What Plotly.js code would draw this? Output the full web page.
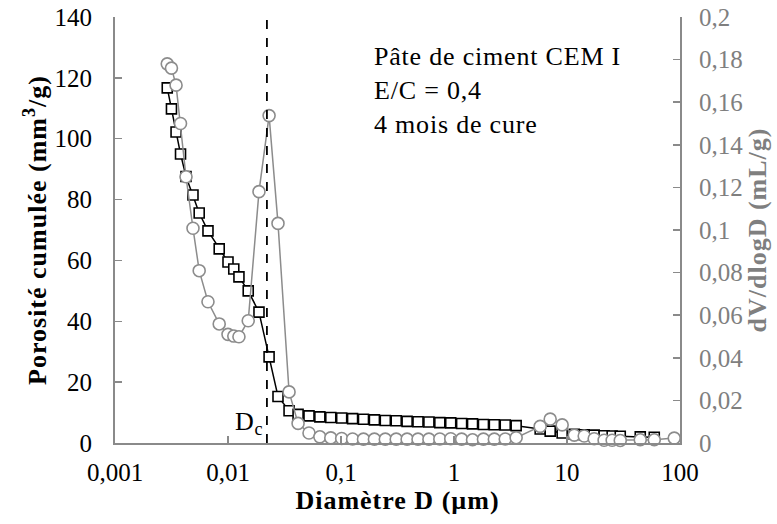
<!DOCTYPE html>
<html>
<head>
<meta charset="utf-8">
<script src="https://cdn.plot.ly/plotly-3.0.1.min.js"></script>
<style>
html,body{margin:0;padding:0;background:#fff;}
#chart{width:777px;height:524px;}
.g-xtitle text, .g-ytitle text, .g-y2title text {letter-spacing: 1px;}
.annotation-text {letter-spacing: 0.8px;}
</style>
</head>
<body>
<div id="chart"></div>
<script>
// Shared pore diameters (µm)
const diameters = [0.00290, 0.00316, 0.00347, 0.00380, 0.00425, 0.00490, 0.00556, 0.00665, 0.00836, 0.0100,
  0.01125, 0.0125, 0.0151, 0.0188, 0.0231, 0.0277, 0.0347, 0.0417, 0.0521, 0.0650,
  0.0812, 0.1014, 0.1266, 0.1581, 0.1975, 0.2466, 0.308, 0.3846, 0.4803, 0.5998,
  0.749, 0.9354, 1.168, 1.459, 1.822, 2.275, 2.841, 3.548, 5.79, 7.10,
  9.06, 11.6, 14.2, 17.4, 21.3, 25.1, 29.6, 44.5, 59.2, 88.9];
// Cumulative porosity (mm3/g)
const porositeCumulee = [116.7, 109.8, 102.2, 95.0, 87.6, 81.5, 75.6, 69.7, 63.8, 59.5,
  57.2, 54.6, 50.0, 43.0, 28.3, 15.3, 10.6, 9.4, 8.9, 8.6,
  8.4, 8.2, 8.0, 7.8, 7.6, 7.4, 7.3, 7.1, 7.0, 6.9,
  6.7, 6.6, 6.4, 6.3, 6.1, 6.0, 5.9, 5.7, 4.6, 3.9,
  3.3, 2.9, 2.7, 2.6, 2.4, 2.3, 2.2, 2.0, 1.9, null];
// dV/dlogD (mL/g)
const dVdlogD = [0.178, 0.176, 0.168, 0.150, 0.125, 0.1008, 0.0809, 0.0663, 0.0559, 0.0510,
  0.0502, 0.0499, 0.0574, 0.118, 0.1537, 0.1031, 0.024, 0.0092, 0.0047, 0.0029,
  0.0024, 0.0021, 0.0019, 0.0018, 0.0018, 0.0018, 0.0018, 0.0018, 0.0018, 0.0018,
  0.0019, 0.0020, 0.0018, 0.0015, 0.0018, 0.0018, 0.0019, 0.0025, 0.0078, 0.0112,
  0.0085, 0.0037, 0.0033, 0.0020, 0.0013, 0.0013, 0.0012, 0.0015, 0.0015, 0.0023];
const criticalDiameter = 0.0221;
const xTickVals = [0.001, 0.01, 0.1, 1, 10, 100];
const xTickText = ["0,001", "0,01", "0,1", "1", "10", "100"];
const yLeftTicks = [0, 20, 40, 60, 80, 100, 120, 140];
const yRightTickVals = [0, 0.02, 0.04, 0.06, 0.08, 0.1, 0.12, 0.14, 0.16, 0.18, 0.2];
const yRightTickText = ["0", "0,02", "0,04", "0,06", "0,08", "0,1", "0,12", "0,14", "0,16", "0,18", "0,2"];
const noteText = "Pâte de ciment CEM I<br>E/C = 0,4<br>4 mois de cure";

const FONT = "Liberation Serif, Times New Roman, serif";
const AXIS_GRAY = "#8a8a8a";
const SERIES_GRAY = "#8c8c8c";
const LABEL_GRAY = "#7f7f7f";

const traces = [
  {
    x: diameters, y: porositeCumulee, type: 'scatter', mode: 'lines+markers',
    name: 'Porosité cumulée', connectgaps: true,
    line: {color: '#000', width: 1.5},
    marker: {symbol: 'square', size: 10, color: '#fff', line: {color: '#000', width: 1.6}},
    xaxis: 'x', yaxis: 'y', cliponaxis: false
  },
  {
    x: diameters, y: dVdlogD, type: 'scatter', mode: 'lines+markers',
    name: 'dV/dlogD',
    line: {color: SERIES_GRAY, width: 1.5},
    marker: {symbol: 'circle', size: 12, color: '#fff', line: {color: SERIES_GRAY, width: 1.6}},
    xaxis: 'x', yaxis: 'y2', cliponaxis: false
  }
];

const layout = {
  width: 777, height: 524,
  margin: {l: 115, r: 97, t: 17, b: 81},
  paper_bgcolor: '#fff', plot_bgcolor: '#fff',
  showlegend: false,
  separators: ', ',
  font: {family: FONT, size: 25, color: '#000'},
  xaxis: {
    type: 'log', range: [-3, 2],
    tickvals: xTickVals, ticktext: xTickText,
    ticks: 'inside', ticklen: 7, tickcolor: AXIS_GRAY, tickwidth: 1.5,
    showline: true, linecolor: AXIS_GRAY, linewidth: 2,
    showgrid: false, zeroline: false,
    ticklabelstandoff: 6,
    tickfont: {family: FONT, size: 25, color: '#000'},
    title: {text: 'Diamètre D (µm)', font: {family: FONT, size: 26, color: '#000', weight: 'bold'}, standoff: 2}
  },
  yaxis: {
    range: [0, 140], tickvals: yLeftTicks,
    ticks: 'inside', ticklen: 7, tickcolor: AXIS_GRAY, tickwidth: 1.5,
    showline: true, linecolor: AXIS_GRAY, linewidth: 2,
    showgrid: false, zeroline: false,
    ticklabelstandoff: 16,
    tickfont: {family: FONT, size: 25, color: '#000'},
    title: {text: 'Porosité cumulée (mm<sup>3</sup>/g)', font: {family: FONT, size: 26, color: '#000', weight: 'bold'}, standoff: 0}
  },
  yaxis2: {
    overlaying: 'y', side: 'right', range: [0, 0.2],
    tickvals: yRightTickVals, ticktext: yRightTickText,
    ticks: 'inside', ticklen: 7, tickcolor: AXIS_GRAY, tickwidth: 1.5,
    showline: true, linecolor: AXIS_GRAY, linewidth: 2,
    showgrid: false, zeroline: false,
    ticklabelstandoff: 12,
    tickfont: {family: FONT, size: 25, color: LABEL_GRAY},
    title: {text: 'dV/dlogD (mL/g)', font: {family: FONT, size: 26, color: LABEL_GRAY, weight: 'bold'}, standoff: 2}
  },
  shapes: [{
    type: 'line', xref: 'x', yref: 'paper', x0: criticalDiameter, x1: criticalDiameter, y0: 0, y1: 1,
    line: {color: '#000', width: 1.8, dash: 'dash'}
  }],
  annotations: [
    {
      xref: 'paper', yref: 'paper', x: 0.455, y: 0.945, xanchor: 'left', yanchor: 'top', align: 'left',
      text: noteText, showarrow: false, font: {family: FONT, size: 26, color: '#000'}
    },
    {
      xref: 'x', yref: 'y', x: Math.log10(criticalDiameter) - 0.02, y: 6.5, xanchor: 'right', yanchor: 'middle',
      text: 'D<sub>c</sub>', showarrow: false, font: {family: FONT, size: 26, color: '#000'}
    }
  ]
};

Plotly.newPlot('chart', traces, layout, {staticPlot: true, displayModeBar: false});
</script>
</body>
</html>
